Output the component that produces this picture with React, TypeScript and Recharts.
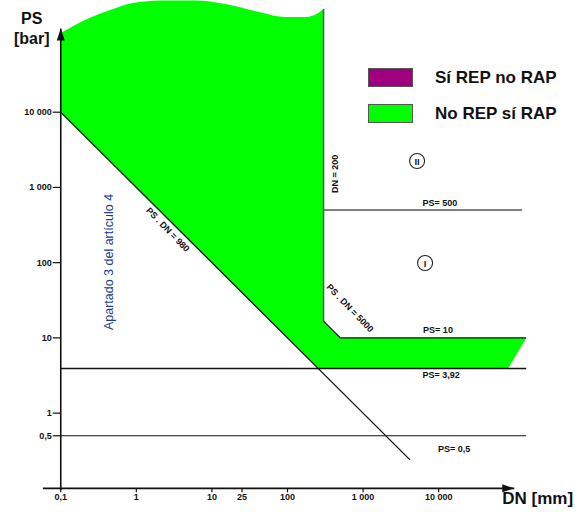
import React from 'react';
import { ComposedChart, Area, XAxis, YAxis, ReferenceLine, ReferenceDot, Legend } from 'recharts';

const FONT = '"Liberation Sans", Arial, Helvetica, sans-serif';
const GREEN = '#00ff00';
const MAGENTA = '#a0007f';

// axis ticks (log scales)
const DN_TICKS = [0.1, 1, 10, 25, 100, 1000, 10000];
const DN_TICK_LABELS = ['0,1', '1', '10', '25', '100', '1 000', '10 000'];
const PS_TICKS = [10000, 1000, 100, 10, 1, 0.5];
const PS_TICK_LABELS = ['10 000', '1 000', '100', '10', '1', '0,5'];

// green zone, upper (wavy) part above PS = 10 000
const UPPER_DN = [0.1, 0.24, 0.45, 0.9, 2.1, 6, 15, 37, 93, 172, 255, 300];
const UPPER_PS = [113000, 179000, 228000, 282000, 305000, 305000, 274000, 221000, 184000, 184000, 208000, 235000];
const UPPER_BASE = 10000;

// green zone, lower part (between the limit lines)
const LOWER_DN = [0.1, 255, 300, 300, 500, 82800, 144000];
const LOWER_LOW = [10000, 3.92, 3.92, 3.92, 3.92, 3.92, 10];
const LOWER_HIGH = [12000, 12000, 12000, 16.7, 10, 10, 10];

// limit lines [dn, ps] -> [dn, ps]
const LINE_PSDN_1000 = [[0.1, 10000], [4180, 0.239]];
const LINE_DN_200 = [[300, 235000], [300, 16.7]];
const LINE_PSDN_5000 = [[300, 16.7], [500, 10]];
const LINE_PS_10 = [[500, 10], [144000, 10]];
const LINE_PS_500 = [[300, 500], [127000, 500]];
const LINE_PS_392 = [[0.1, 3.92], [144000, 3.92]];
const LINE_PS_05 = [[0.1, 0.5], [144000, 0.5]];
const X_AXIS_LINE = [[0.058, 0.1], [100000, 0.1]];
const Y_AXIS_LINE = [[0.1, 0.095], [0.1, 130000]];

// annotations [dn, ps]
const LBL_PS500 = [10400, 621];
const LBL_PS10 = [9800, 12.7];
const LBL_PS392 = [10800, 3.2];
const LBL_PS05 = [16000, 0.333];
const LBL_DN200 = [425, 1510];
const LBL_PSDN5000 = [671, 24.9];
const LBL_PSDN980 = [2.6, 275];
const LBL_ART4 = [0.436, 102];
const ZONE_II = [5180, 2245];
const ZONE_I = [6610, 98.9];

const LEGEND_ITEMS = [
  { label: 'Sí REP no RAP', color: MAGENTA },
  { label: 'No REP sí RAP', color: GREEN },
];

const upperData = UPPER_DN.map((dn, i) => ({ dn, band: [UPPER_BASE, UPPER_PS[i]] }));
const lowerData = LOWER_DN.map((dn, i) => ({ dn, band: [LOWER_LOW[i], LOWER_HIGH[i]] }));

const seg = (l: number[][]) => [{ x: l[0][0], y: l[0][1] }, { x: l[1][0], y: l[1][1] }];

const smallBold = { fontFamily: FONT, fontSize: 9, fontWeight: 700, fill: '#111' } as const;

const textShape = (label: string, rotate = 0, style: any = smallBold) => (p: any) => (
  <text
    x={p.cx}
    y={p.cy}
    textAnchor="middle"
    dominantBaseline="central"
    transform={rotate ? `rotate(${rotate} ${p.cx} ${p.cy})` : undefined}
    style={style}
  >
    {label}
  </text>
);

const circledShape = (label: string) => (p: any) => (
  <g>
    <circle cx={p.cx} cy={p.cy} r={7.5} fill="#fff" stroke="#222" strokeWidth={1.1} />
    <text x={p.cx} y={p.cy + 0.5} textAnchor="middle" dominantBaseline="central" style={{ fontFamily: FONT, fontSize: 9.5, fontWeight: 700, fill: '#222' }}>
      {label}
    </text>
  </g>
);

const yTickShape = (label: string) => (p: any) => (
  <g>
    <line x1={p.cx - 8} y1={p.cy} x2={p.cx} y2={p.cy} stroke="#111" strokeWidth={1.2} />
    <text x={p.cx - 9} y={p.cy} textAnchor="end" dominantBaseline="central" style={smallBold}>{label}</text>
  </g>
);

const xTickShape = (label: string) => (p: any) => (
  <g>
    <line x1={p.cx} y1={p.cy} x2={p.cx} y2={p.cy + 4} stroke="#111" strokeWidth={1.2} />
    <text x={p.cx} y={p.cy + 12} textAnchor="middle" style={smallBold}>{label}</text>
  </g>
);

const yArrow = (p: any) => (
  <g>
    <polygon points={`${p.cx},${p.cy} ${p.cx - 4},${p.cy + 12} ${p.cx + 4},${p.cy + 12}`} fill="#111" />
    <text x={p.cx - 29} y={p.cy - 4} textAnchor="middle" style={{ fontFamily: FONT, fontSize: 16, fontWeight: 700, fill: '#111' }}>PS</text>
    <text x={p.cx - 29} y={p.cy + 16} textAnchor="middle" style={{ fontFamily: FONT, fontSize: 16, fontWeight: 700, fill: '#111' }}>[bar]</text>
  </g>
);

const xArrow = (p: any) => (
  <g>
    <polygon points={`${p.cx},${p.cy} ${p.cx - 12},${p.cy - 4} ${p.cx - 12},${p.cy + 4}`} fill="#111" />
    <text x={p.cx - 12} y={p.cy + 16} style={{ fontFamily: FONT, fontSize: 17, fontWeight: 700, fill: '#111' }}>DN [mm]</text>
  </g>
);

const renderLegend = () => (
  <div style={{ fontFamily: FONT }}>
    {LEGEND_ITEMS.map((it) => (
      <div key={it.label} style={{ display: 'flex', alignItems: 'center', height: 19, marginBottom: 17 }}>
        <span style={{ display: 'inline-block', width: 43, height: 17, background: it.color, border: '1px solid #555' }} />
        <span style={{ marginLeft: 22, fontSize: 17, fontWeight: 700, color: '#111', whiteSpace: 'nowrap' }}>{it.label}</span>
      </div>
    ))}
  </div>
);

const App: React.FC = () => (
  <div style={{ position: 'absolute', left: 0, top: 0, width: 587, height: 512, background: '#fff' }}>
    <ComposedChart width={587} height={512} margin={{ top: 0, right: 50, bottom: 1, left: 38 }}>
      <XAxis type="number" dataKey="dn" scale="log" domain={[0.05, 200000]} allowDataOverflow hide />
      <YAxis type="number" scale="log" domain={[0.05, 310000]} allowDataOverflow hide />
      <Legend
        layout="vertical"
        align="center"
        verticalAlign="middle"
        content={renderLegend}
        wrapperStyle={{ left: 368, top: 68, width: 220 }}
      />
      <Area data={upperData} dataKey="band" type="monotone" fill={GREEN} fillOpacity={1} stroke="none" isAnimationActive={false} />
      <Area data={lowerData} dataKey="band" type="linear" fill={GREEN} fillOpacity={1} stroke="none" isAnimationActive={false} />

      <ReferenceLine segment={seg(LINE_PSDN_1000)} stroke="#111" strokeWidth={1.3} ifOverflow="visible" />
      <ReferenceLine segment={seg(LINE_DN_200)} stroke="#555" strokeWidth={1.5} ifOverflow="visible" />
      <ReferenceLine segment={seg(LINE_PSDN_5000)} stroke="#111" strokeWidth={1.3} ifOverflow="visible" />
      <ReferenceLine segment={seg(LINE_PS_10)} stroke="#111" strokeWidth={1.3} ifOverflow="visible" />
      <ReferenceLine segment={seg(LINE_PS_500)} stroke="#555" strokeWidth={1.5} ifOverflow="visible" />
      <ReferenceLine segment={seg(LINE_PS_392)} stroke="#111" strokeWidth={1.3} ifOverflow="visible" />
      <ReferenceLine segment={seg(LINE_PS_05)} stroke="#111" strokeWidth={1.1} ifOverflow="visible" />
      <ReferenceLine segment={seg(X_AXIS_LINE)} stroke="#111" strokeWidth={1.6} ifOverflow="visible" />
      <ReferenceLine segment={seg(Y_AXIS_LINE)} stroke="#111" strokeWidth={1.6} ifOverflow="visible" />

      {PS_TICKS.map((v, i) => (
        <ReferenceDot key={`y${v}`} x={0.1} y={v} r={0} ifOverflow="visible" shape={yTickShape(PS_TICK_LABELS[i])} />
      ))}
      {DN_TICKS.map((v, i) => (
        <ReferenceDot key={`x${v}`} x={v} y={0.1} r={0} ifOverflow="visible" shape={xTickShape(DN_TICK_LABELS[i])} />
      ))}
      <ReferenceDot x={Y_AXIS_LINE[1][0]} y={Y_AXIS_LINE[1][1]} r={0} ifOverflow="visible" shape={yArrow} />
      <ReferenceDot x={X_AXIS_LINE[1][0]} y={X_AXIS_LINE[1][1]} r={0} ifOverflow="visible" shape={xArrow} />

      <ReferenceDot x={LBL_PS500[0]} y={LBL_PS500[1]} r={0} ifOverflow="visible" shape={textShape('PS= 500')} />
      <ReferenceDot x={LBL_PS10[0]} y={LBL_PS10[1]} r={0} ifOverflow="visible" shape={textShape('PS= 10')} />
      <ReferenceDot x={LBL_PS392[0]} y={LBL_PS392[1]} r={0} ifOverflow="visible" shape={textShape('PS= 3,92')} />
      <ReferenceDot x={LBL_PS05[0]} y={LBL_PS05[1]} r={0} ifOverflow="visible" shape={textShape('PS= 0,5')} />
      <ReferenceDot x={LBL_DN200[0]} y={LBL_DN200[1]} r={0} ifOverflow="visible" shape={textShape('DN = 200', -90)} />
      <ReferenceDot x={LBL_PSDN5000[0]} y={LBL_PSDN5000[1]} r={0} ifOverflow="visible" shape={textShape('PS . DN = 5000', 46)} />
      <ReferenceDot x={LBL_PSDN980[0]} y={LBL_PSDN980[1]} r={0} ifOverflow="visible" shape={textShape('PS . DN = 980', 46)} />
      <ReferenceDot
        x={LBL_ART4[0]}
        y={LBL_ART4[1]}
        r={0}
        ifOverflow="visible"
        shape={textShape('Apartado 3 del artículo 4', -90, { fontFamily: FONT, fontSize: 12.5, fill: '#23398f' })}
      />
      <ReferenceDot x={ZONE_II[0]} y={ZONE_II[1]} r={0} ifOverflow="visible" shape={circledShape('II')} />
      <ReferenceDot x={ZONE_I[0]} y={ZONE_I[1]} r={0} ifOverflow="visible" shape={circledShape('I')} />
    </ComposedChart>
  </div>
);

export default App;
